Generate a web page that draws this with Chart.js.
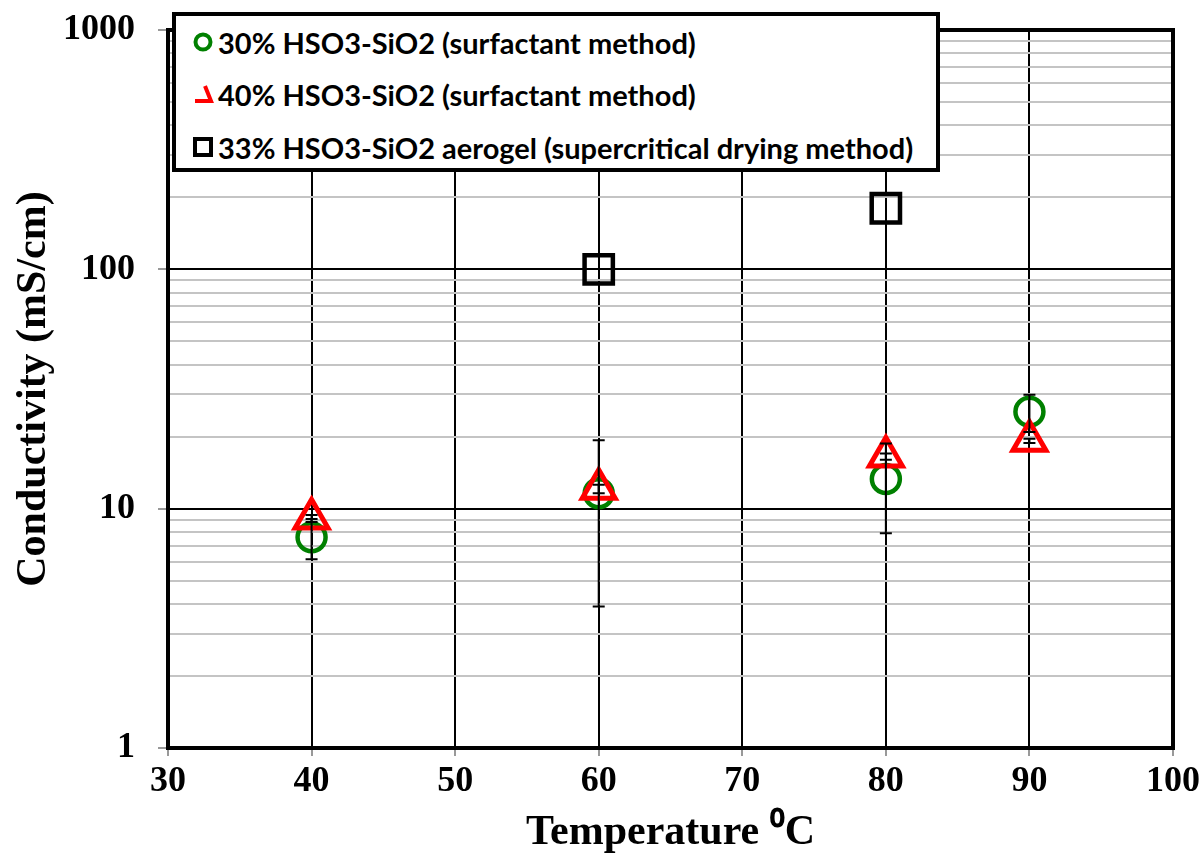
<!DOCTYPE html>
<html>
<head>
<meta charset="utf-8">
<script src="https://cdn.jsdelivr.net/npm/chart.js@4.4.0/dist/chart.umd.min.js"></script>
<style>
  body { margin: 0; background: #fff; }
  #wrap { position: relative; width: 1204px; height: 856px; }
  #legend { position: absolute; left: 172px; top: 12px; width: 760px; height: 152px; border: 4px solid #000; background: #fff; font: bold 29px Lato, sans-serif; color: #000; }
  #legend .row { position: absolute; left: 16px; height: 34px; display: flex; align-items: center; white-space: nowrap; }
  #legend svg { margin-right: 4px; }
</style>
</head>
<body>
<div id="wrap">
  <canvas id="myChart" width="1204" height="856"></canvas>
  <div id="legend"></div>
</div>
<script>
// data
const temps = [40, 60, 80, 90]
const hso30 = [7.6, 11.6, 13.3, 25.4]
const hso30Err = [1.45, 7.7, 5.4, 4.5]
const hso40 = [9.1, 12.1, 16.5, 19.2]
const hso40Err = [0.3, 0.5, 0.5, 0.4]
const aeroTemps = [60, 80]
const aerogel = [100, 180]

const seriesNames = [
  '30% HSO3-SiO2 (surfactant method)',
  '40% HSO3-SiO2 (surfactant method)',
  '33% HSO3-SiO2 aerogel (supercritical drying method)'
]
const xTicks = [30, 40, 50, 60, 70, 80, 90, 100]
const yTicks = [1, 2, 3, 4, 5, 6, 7, 8, 9, 10, 20, 30, 40, 50, 60, 70, 80, 90,
  100, 200, 300, 400, 500, 600, 700, 800, 900, 1000]
const yLabels = [1, 10, 100, 1000]

const pts = (xs, ys) => xs.map((x, i) => ({ x: x, y: ys[i] }))
const isMajor = v => yLabels.includes(v)

// error bars drawn through the chart scales
const errorBars = {
  id: 'errorBars',
  afterDatasetsDraw(chart) {
    const ctx = chart.ctx
    const xs = chart.scales.x
    const ys = chart.scales.y
    const sets = [[hso30, hso30Err], [hso40, hso40Err]]
    ctx.save()
    ctx.strokeStyle = '#000'
    ctx.lineWidth = 2
    sets.forEach(([vals, errs]) => {
      vals.forEach((v, i) => {
        if (!errs[i]) return
        const px = xs.getPixelForValue(temps[i])
        const top = ys.getPixelForValue(v + errs[i])
        const bot = ys.getPixelForValue(v - errs[i])
        ctx.beginPath()
        ctx.moveTo(px, top); ctx.lineTo(px, bot)
        ctx.moveTo(px - 6, top); ctx.lineTo(px + 6, top)
        ctx.moveTo(px - 6, bot); ctx.lineTo(px + 6, bot)
        ctx.stroke()
      })
    })
    ctx.restore()
  }
}

const frame = {
  id: 'frame',
  afterDraw(chart) {
    const a = chart.chartArea
    const ctx = chart.ctx
    ctx.save()
    ctx.strokeStyle = '#000'
    ctx.lineWidth = 4
    ctx.strokeRect(a.left, a.top, a.right - a.left, a.bottom - a.top)
    ctx.restore()
  }
}

const serif = 'Liberation Serif, Times New Roman, serif'

new Chart(document.getElementById('myChart').getContext('2d'), {
  type: 'scatter',
  data: {
    datasets: [
      {
        label: seriesNames[0],
        data: pts(temps, hso30),
        pointStyle: 'circle',
        pointRadius: 14,
        borderColor: '#008000',
        backgroundColor: 'rgba(0,0,0,0)',
        pointBorderWidth: 4.5,
        order: 2
      },
      {
        label: seriesNames[1],
        data: pts(temps, hso40),
        pointStyle: 'triangle',
        pointRadius: 19,
        borderColor: '#ff0000',
        backgroundColor: 'rgba(0,0,0,0)',
        pointBorderWidth: 5,
        order: 1
      },
      {
        label: seriesNames[2],
        data: pts(aeroTemps, aerogel),
        pointStyle: 'rect',
        pointRadius: 20,
        borderColor: '#000',
        backgroundColor: 'rgba(0,0,0,0)',
        pointBorderWidth: 4.5,
        order: 0
      }
    ]
  },
  options: {
    responsive: false,
    animation: false,
    layout: { padding: { top: 30, right: 29, left: 0, bottom: 0 } },
    plugins: { legend: { display: false }, tooltip: { enabled: false } },
    scales: {
      x: {
        type: 'linear',
        min: 30,
        max: 100,
        afterBuildTicks: s => { s.ticks = xTicks.map(v => ({ value: v })) },
        afterFit: s => { s.height = 108 },
        grid: { color: '#000', lineWidth: 2, tickLength: 8, tickColor: '#999' },
        border: { display: false },
        ticks: { color: '#000', padding: 4, font: { family: serif, size: 36, weight: 'bold' } },
        title: {
          display: true,
          text: 'Temperature \u2070C',
          color: '#000',
          font: { family: serif, size: 42, weight: 'bold', lineHeight: 1 },
          padding: { top: 2, bottom: 2 }
        }
      },
      y: {
        type: 'logarithmic',
        min: 1,
        max: 1000,
        afterBuildTicks: s => { s.ticks = yTicks.map(v => ({ value: v, major: isMajor(v) })) },
        afterFit: s => { s.width = 168; s.paddingTop = 0; s.paddingBottom = 0 },
        grid: {
          color: c => isMajor(c.tick.value) ? '#000' : '#c4c4c4',
          lineWidth: 2,
          tickLength: 10,
          tickColor: c => isMajor(c.tick.value) ? '#999' : 'rgba(0,0,0,0)'
        },
        border: { display: false },
        ticks: {
          autoSkip: false,
          color: '#000',
          padding: 23,
          font: { family: serif, size: 36, weight: 'bold' },
          callback: v => isMajor(v) ? String(v) : ''
        },
        title: {
          display: true,
          text: 'Conductivity (mS/cm)',
          color: '#000',
          font: { family: serif, size: 42, weight: 'bold', lineHeight: 1.2 },
          padding: { top: 9, bottom: 0 }
        }
      }
    }
  },
  plugins: [errorBars, frame]
})

// legend box laid over the plot, like the original
const icons = [
  '<svg width="22" height="22"><circle cx="11" cy="11" r="7.5" fill="none" stroke="#008000" stroke-width="4"/></svg>',
  '<svg width="22" height="22"><polyline points="13,3 19,18 3,18" fill="none" stroke="#ff0000" stroke-width="4"/></svg>',
  '<svg width="22" height="22"><rect x="3" y="3" width="16" height="16" fill="none" stroke="#000" stroke-width="4"/></svg>'
]
const rowTops = [9, 61, 114]
document.getElementById('legend').innerHTML = seriesNames.map((n, i) =>
  '<div class="row" style="top:' + rowTops[i] + 'px">' + icons[i] + '<span>' + n + '</span></div>'
).join('')
</script>
</body>
</html>
